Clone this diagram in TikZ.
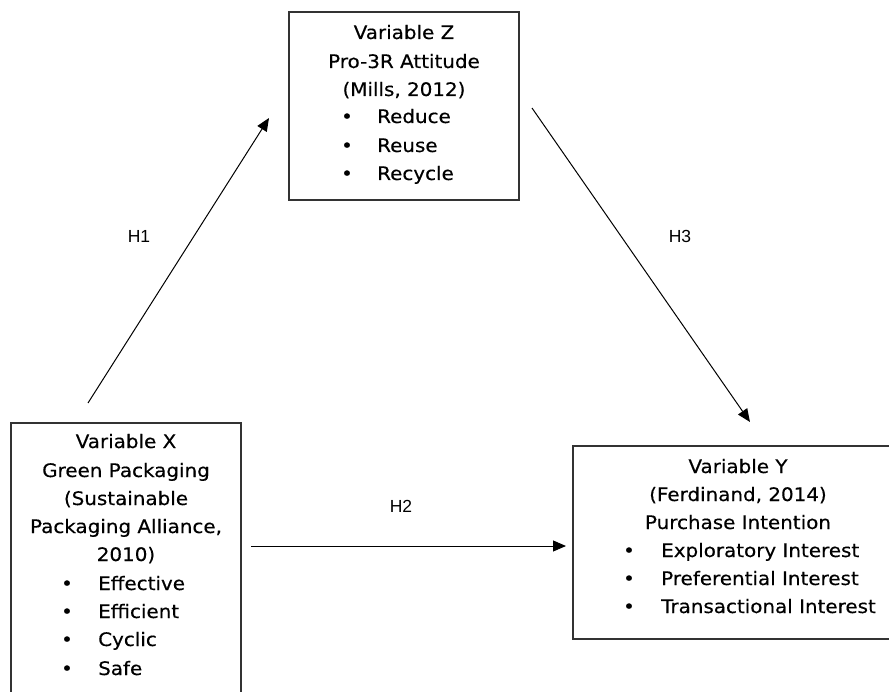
\documentclass[tikz,border=0pt]{standalone}
\usepackage{fontspec}
\usetikzlibrary{arrows.meta}
\newfontfamily\boxfont[FakeStretch=1.07,FakeBold=0.4]{DejaVu Sans}
\newfontfamily\hfont{Liberation Sans}
\begin{document}
\begin{tikzpicture}[x=1pt,y=-1pt,
  frame/.style={draw=black!80,line width=1.3pt,inner sep=0pt},
  txt/.style={anchor=base,inner sep=0pt,font=\boxfont\fontsize{18.6}{22}\selectfont},
  itm/.style={anchor=base west,inner sep=0pt,font=\boxfont\fontsize{18.6}{22}\selectfont},
  bul/.style={anchor=base,inner sep=0pt,font=\boxfont\fontsize{18.6}{22}\selectfont},
  hlab/.style={anchor=base,inner sep=0pt,font=\hfont\fontsize{17.5}{20}\selectfont},
  conn/.style={line width=1pt,-{Triangle[length=13pt,width=11pt]}}]
\useasboundingbox (0,0) rectangle (889,692);
% Boxes
\draw[frame] (289,12) rectangle (519,200);
\draw[frame] (11,423) rectangle (241,700);
\draw[frame] (573,446) rectangle (905,639);
% Box Z text
\node[txt] (z1) at (404,39) {Variable Z};
\node[txt] (z2) at (404,68) {Pro-3R Attitude};
\node[txt] (z3) at (404,96) {(Mills, 2012)};
\node[bul] (zb1) at (347,123) {•};
\node[bul] (zb2) at (347,152) {•};
\node[bul] (zb3) at (347,180) {•};
\node[itm] (z4) at (377,123) {Reduce};
\node[itm] (z5) at (377,152) {Reuse};
\node[itm] (z6) at (377,180) {Recycle};
% Box X text
\node[txt] (x1) at (126,448) {Variable X};
\node[txt] (x2) at (126,477) {Green Packaging};
\node[txt] (x3) at (126,505) {(Sustainable};
\node[txt] (x4) at (126,533) {Packaging Alliance,};
\node[txt] (x5) at (126,561) {2010)};
\node[bul] (xb1) at (67,590) {•};
\node[bul] (xb2) at (67,618) {•};
\node[bul] (xb3) at (67,646) {•};
\node[bul] (xb4) at (67,675) {•};
\node[itm] (x6) at (98,590) {Effective};
\node[itm] (x7) at (98,618) {Efficient};
\node[itm] (x8) at (98,646) {Cyclic};
\node[itm] (x9) at (98,675) {Safe};
% Box Y text
\node[txt] (y1) at (738,473) {Variable Y};
\node[txt] (y2) at (738,501) {(Ferdinand, 2014)};
\node[txt] (y3) at (738,529) {Purchase Intention};
\node[bul] (yb1) at (629,557) {•};
\node[bul] (yb2) at (629,585) {•};
\node[bul] (yb3) at (629,613) {•};
\node[itm] (y4) at (661,557) {Exploratory Interest};
\node[itm] (y5) at (661,585) {Preferential Interest};
\node[itm] (y6) at (661,613) {Transactional Interest};
% Connectors
\coordinate (h1s) at (88,403);
\coordinate (h1e) at (269,118);
\coordinate (h3s) at (532,108);
\coordinate (h3e) at (750,422);
\coordinate (h2s) at (251,546);
\coordinate (h2e) at (566,546);
\draw[conn] (h1s) -- (h1e);
\draw[conn] (h3s) -- (h3e);
\draw[conn] (h2s) -- (h2e);
\node[hlab] (H1) at (139,243) {H1};
\node[hlab] (H3) at (680,243) {H3};
\node[hlab] (H2) at (401,512) {H2};
\end{tikzpicture}
\end{document}
